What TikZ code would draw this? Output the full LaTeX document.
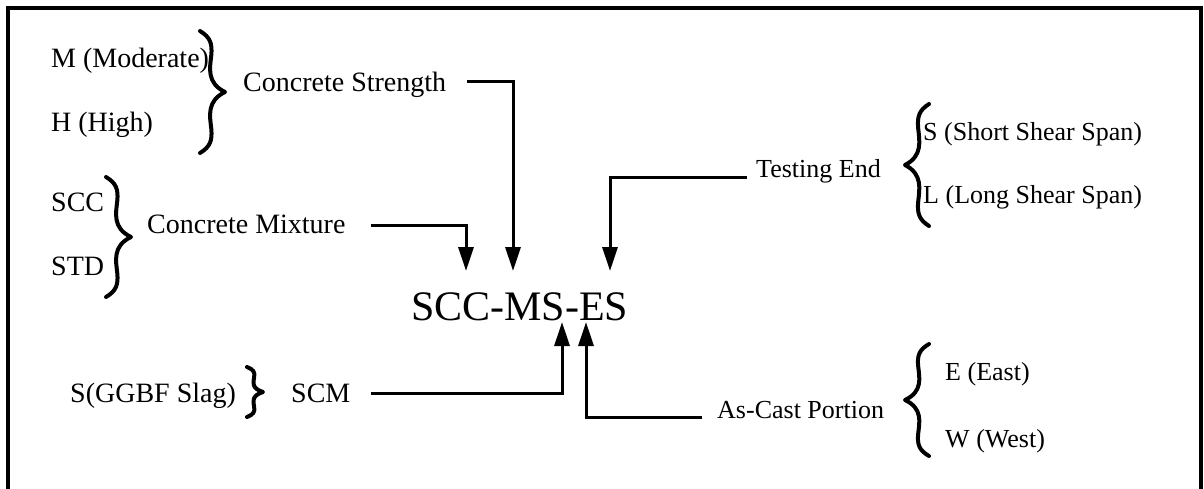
\documentclass[tikz,border=0pt]{standalone}
\usepackage{fontspec}
\setmainfont{Liberation Serif}
\usetikzlibrary{arrows.meta}
\newcommand{\mybracepath}{(0,-1) .. controls (0.4,-0.9) and (0.5,-0.8) .. (0.45,-0.6) .. controls (0.4,-0.4) and (0.25,-0.15) .. (1,0) .. controls (0.25,0.15) and (0.4,0.4) .. (0.45,0.6) .. controls (0.5,0.8) and (0.4,0.9) .. (0,1)}
\begin{document}
\begin{tikzpicture}[x=1pt,y=-1pt,
  lbl/.style={inner sep=0pt,anchor=base west,font=\fontsize{28}{30}\selectfont},
  rlbl/.style={inner sep=0pt,anchor=base west,font=\fontsize{26}{28}\selectfont},
  bigl/.style={inner sep=0pt,anchor=base west,font=\fontsize{42}{44}\selectfont},
  conn/.style={line width=3pt,-{Triangle[length=24pt,width=15pt]}},
  bracestyle/.style={line width=4pt,line join=round,line cap=round}]
\useasboundingbox (0,0) rectangle (1204,488);
\draw[line width=4pt] (8,520) -- (8,8) -- (1201,8) -- (1201,520);

% nodes
\node[lbl] (m) at (51,67) {M (Moderate)};
\node[lbl] (h) at (51,131) {H (High)};
\node[lbl] (cs) at (243,91) {Concrete Strength};
\node[lbl] (scc) at (51,211) {SCC};
\node[lbl] (std) at (51,275) {STD};
\node[lbl] (cm) at (147,233) {Concrete Mixture};
\node[lbl] (slag) at (70,402) {S(GGBF Slag)};
\node[lbl] (scm) at (291,402) {SCM};
\node[bigl] (main) at (411,320) {SCC-MS-ES};
\node[rlbl] (te) at (756,177) {Testing End};
\node[rlbl] (ss) at (923,140) {S (Short Shear Span)};
\node[rlbl] (ls) at (923,203) {L (Long Shear Span)};
\node[rlbl] (ac) at (717,418) {As-Cast Portion};
\node[rlbl] (e) at (945,380) {E (East)};
\node[rlbl] (w) at (945,447) {W (West)};

% arrow tips
\coordinate (tcm) at ([shift={(55,-49)}]main.base west);
\coordinate (tcs) at ([shift={(102,-49)}]main.base west);
\coordinate (tte) at ([shift={(199,-49)}]main.base west);
\coordinate (tscm) at ([shift={(151,2)}]main.base west);
\coordinate (tac) at ([shift={(175,2)}]main.base west);

% connectors
\draw[conn] ([shift={(21,-10)}]cs.base east) -| (tcs);
\draw[conn] ([shift={(25,-8)}]cm.base east) -| (tcm);
\draw[conn] ([shift={(-9,0)}]te.base west) -| (tte);
\draw[conn] ([shift={(20,-9)}]scm.base east) -| (tscm);
\draw[conn] ([shift={(-15,-1)}]ac.base west) -| (tac);

% braces
\draw[bracestyle,shift={(200,92)},xscale=25,yscale=61] \mybracepath;
\draw[bracestyle,shift={(106,237)},xscale=25,yscale=60] \mybracepath;
\draw[bracestyle,shift={(929,165)},xscale=-24,yscale=61] \mybracepath;
\draw[bracestyle,shift={(929,400)},xscale=-24,yscale=56] \mybracepath;
\draw[bracestyle,shift={(247,392)},xscale=16,yscale=25] \mybracepath;
\end{tikzpicture}
\end{document}
